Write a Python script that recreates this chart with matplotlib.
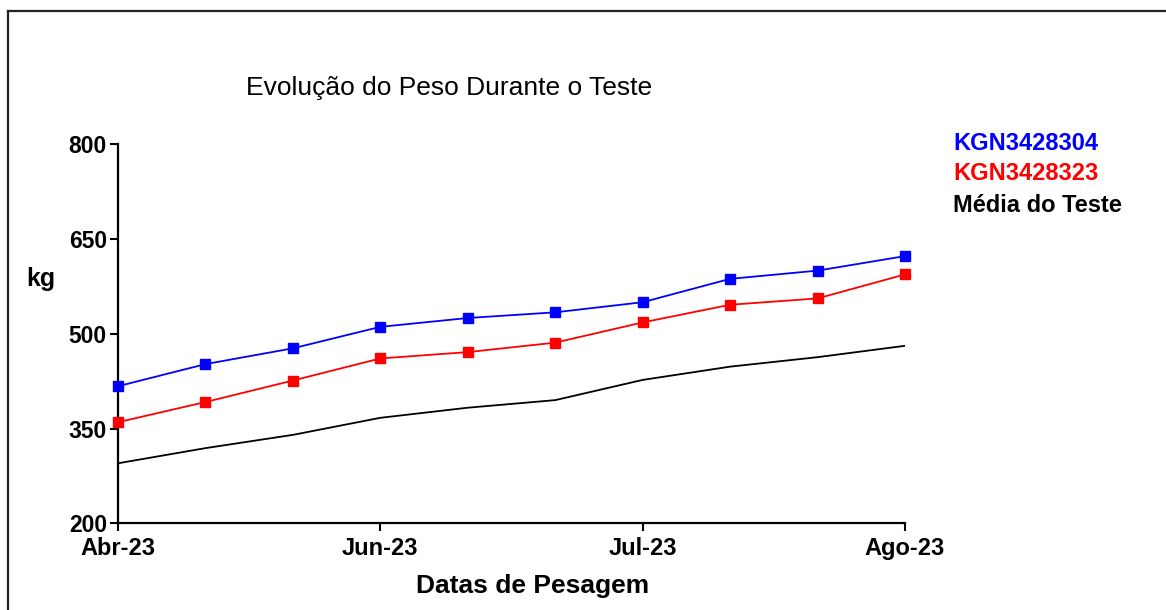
import matplotlib.pyplot as plt
from matplotlib.lines import Line2D

# weighing dates (10 weighings, only some labelled)
n_points = 10
tick_pos = [0, 3, 6, 9]
tick_labels = ["Abr-23", "Jun-23", "Jul-23", "Ago-23"]

kgn_304 = [417, 452, 477, 511, 525, 534, 550, 587, 600, 623]
kgn_323 = [360, 392, 426, 461, 471, 486, 518, 546, 556, 594]
media = [295, 319, 340, 367, 383, 395, 427, 448, 463, 481]

y_ticks = [200, 350, 500, 650, 800]


def graph():
    plt.rcParams['font.family'] = ['Liberation Sans', 'DejaVu Sans']
    fig = plt.figure(figsize=(11.66, 6.1), dpi=100)
    ax = fig.add_axes([118 / 1166, 1 - 523.3 / 610,
                       787 / 1166, 379 / 610])

    x = list(range(n_points))
    ax.plot(x, media, color="black", lw=1.3, zorder=2)
    ax.plot(x, kgn_323, color="#ff0000", lw=1.3, marker="s",
            markersize=6.5, zorder=3, clip_on=False)
    ax.plot(x, kgn_304, color="#0000ff", lw=1.3, marker="s",
            markersize=6.5, zorder=3, clip_on=False)

    ax.set_xlim(0, n_points - 1)
    ax.set_ylim(200, 800)
    ax.set_xticks(tick_pos)
    ax.set_xticklabels(tick_labels, fontsize=17, fontweight="bold")
    ax.set_yticks(y_ticks)
    ax.set_yticklabels([str(v) for v in y_ticks], fontsize=16.5,
                       fontweight="bold")
    ax.tick_params(direction="out", length=6, width=1.5)
    ax.tick_params(axis="x", pad=4)
    ax.tick_params(axis="y", pad=2)

    for side in ["top", "right"]:
        ax.spines[side].set_visible(False)
    for side in ["left", "bottom"]:
        ax.spines[side].set_linewidth(1.6)

    fig.text(246 / 1166, 1 - 88 / 610, "Evolução do Peso Durante o Teste",
             fontsize=19, ha="left", va="center")
    fig.text(41 / 1166, 1 - 279 / 610, "kg", fontsize=18,
             fontweight="bold", ha="center", va="center")
    fig.text(533 / 1166, 1 - 593 / 610, "Datas de Pesagem", fontsize=19,
             fontweight="bold", ha="center", va="baseline")

    fig.text(953 / 1166, 1 - 144 / 610, "KGN3428304", fontsize=17,
             fontweight="bold", color="#0000ff", ha="left", va="center")
    fig.text(953 / 1166, 1 - 174 / 610, "KGN3428323", fontsize=17,
             fontweight="bold", color="#ff0000", ha="left", va="center")
    fig.text(953 / 1166, 1 - 205 / 610, "Média do Teste", fontsize=17,
             fontweight="bold", color="black", ha="left", va="center")

    # frame around the picture (top and left edges only)
    fig.add_artist(Line2D([8 / 1166, 8 / 1166], [0, 1 - 11 / 610],
                          transform=fig.transFigure, color="#222222", lw=1.6))
    fig.add_artist(Line2D([8 / 1166, 1], [1 - 11 / 610, 1 - 11 / 610],
                          transform=fig.transFigure, color="#222222", lw=1.6))

    fig.savefig("out.png", dpi=100)


if __name__ == "__main__":
    graph()
